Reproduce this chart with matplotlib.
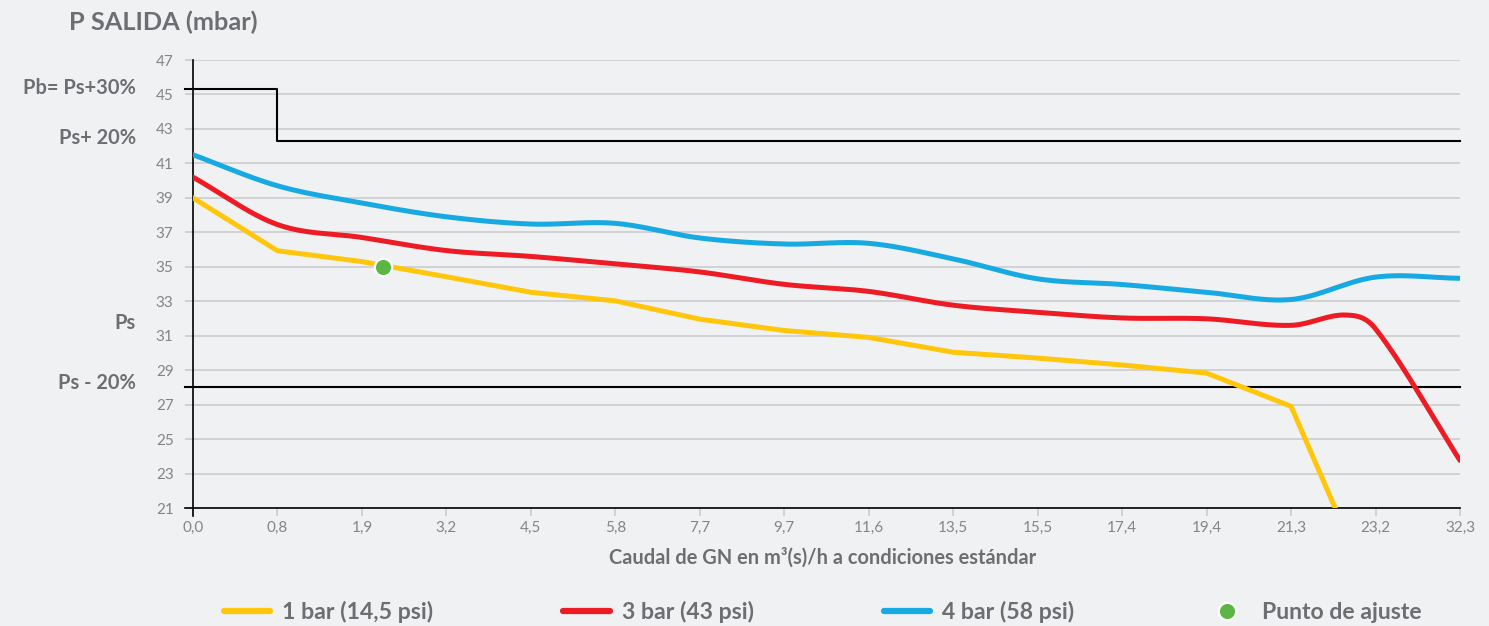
import numpy as np
import matplotlib
matplotlib.use("Agg")
import matplotlib.pyplot as plt
from matplotlib.lines import Line2D

# ---------------- data ----------------
categories = ['0,0', '0,8', '1,9', '3,2', '4,5', '5,8', '7,7', '9,7', '11,6',
              '13,5', '15,5', '17,4', '19,4', '21,3', '23,2', '32,3']
y_ticks = list(range(21, 48, 2))

# positions are category indices along the x axis
bar1_pos = [0, 1, 2, 3, 4, 5, 6, 7, 8, 9, 10, 11, 12, 13, 14]
bar1_vals = [39.0, 35.93, 35.3, 34.42, 33.52, 33.02, 31.96, 31.3, 30.9, 30.04,
             29.7, 29.3, 28.83, 26.9, 15.6]

bar3_pos = [0, 1, 2, 3, 4, 5, 6, 7, 8, 9, 10, 11, 12, 13, 13.65, 14, 15]
bar3_vals = [40.2, 37.45, 36.7, 35.94, 35.6, 35.17, 34.7, 33.98, 33.57, 32.77,
             32.36, 32.03, 31.98, 31.6, 32.2, 31.4, 23.76]

bar4_pos = [0, 1, 2, 3, 4, 5, 6, 7, 8, 9, 10, 11, 12, 13, 14, 15]
bar4_vals = [41.5, 39.7, 38.7, 37.9, 37.48, 37.52, 36.67, 36.32, 36.36, 35.46,
             34.3, 33.97, 33.52, 33.1, 34.4, 34.33]

setpoint_pos = [2.25]
setpoint_vals = [35.0]

pb_high = 45.3       # Pb = Ps+30%
pb_low = 42.3        # Ps+20%
pb_step_pos = 1      # step at "0,8"
ps_minus20 = 28.0    # Ps-20%

series_labels = ['1 bar (14,5 psi)', '3 bar (43 psi)', '4 bar (58 psi)', 'Punto de ajuste']

# ---------------- style ----------------
BG = '#f0f1f3'
GRID = '#c9c9cc'
TXT = '#6d6e71'
TICK = '#858588'
YEL = '#ffc60b'
RED = '#ed1c24'
BLU = '#17a9e1'
GRN = '#5cb646'

plt.rcParams['font.family'] = ['Lato', 'DejaVu Sans']


def smooth(xs, ys, n=40):
    xs = np.asarray(xs, float)
    ys = np.asarray(ys, float)
    m = np.zeros_like(ys)
    m[1:-1] = (ys[2:] - ys[:-2]) / (xs[2:] - xs[:-2])
    m[0] = (ys[1] - ys[0]) / (xs[1] - xs[0])
    m[-1] = (ys[-1] - ys[-2]) / (xs[-1] - xs[-2])
    ox, oy = [], []
    for i in range(len(xs) - 1):
        h = xs[i + 1] - xs[i]
        t = np.linspace(0, 1, n, endpoint=(i == len(xs) - 2))
        h00 = 2 * t**3 - 3 * t**2 + 1
        h10 = t**3 - 2 * t**2 + t
        h01 = -2 * t**3 + 3 * t**2
        h11 = t**3 - t**2
        ox.append(xs[i] + t * h)
        oy.append(h00 * ys[i] + h10 * h * m[i] + h01 * ys[i + 1] + h11 * h * m[i + 1])
    return np.concatenate(ox), np.concatenate(oy)


W, H = 1489, 626
fig = plt.figure(figsize=(W / 100, H / 100), dpi=100, facecolor=BG)
ax = fig.add_axes([193 / W, 1 - 508 / H, (1460 - 193) / W, (508 - 60) / H])
ax.set_facecolor(BG)

x_idx = np.arange(len(categories))
ax.set_xlim(0, len(categories) - 1)
ax.set_ylim(min(y_ticks), max(y_ticks))

ax.set_yticks(y_ticks)
ax.set_xticks(x_idx)
ax.set_xticklabels(categories)
ax.grid(axis='y', color=GRID, lw=1.1, zorder=0)
ax.tick_params(axis='y', length=6, width=1.1, color=GRID, labelcolor=TICK,
               labelsize=11, pad=8)
ax.tick_params(axis='x', length=6, width=1.1, color=GRID, labelcolor=TICK,
               labelsize=11, pad=3)

for s in ['top', 'right']:
    ax.spines[s].set_visible(False)
ax.spines['left'].set_color('black')
ax.spines['left'].set_linewidth(1.2)
ax.spines['bottom'].set_color('black')
ax.spines['bottom'].set_linewidth(1.2)
ax.spines['left'].set_bounds(min(y_ticks) - 0.45, max(y_ticks))
ax.spines['bottom'].set_bounds(-0.095, len(categories) - 1)

# reference lines
xl = -0.095
ax.plot([xl, pb_step_pos, pb_step_pos, len(categories) - 1],
        [pb_high, pb_high, pb_low, pb_low], color='black', lw=1.5,
        clip_on=False, zorder=3)
ax.plot([xl, len(categories) - 1], [ps_minus20, ps_minus20], color='black',
        lw=1.5, clip_on=False, zorder=3)

# series
ax.plot(bar1_pos, bar1_vals, color=YEL, lw=3.6, solid_capstyle='round',
        solid_joinstyle='round', zorder=4)
sx, sy = smooth(bar3_pos, bar3_vals)
ax.plot(sx, sy, color=RED, lw=3.6, solid_capstyle='round', zorder=4)
sx, sy = smooth(bar4_pos, bar4_vals)
ax.plot(sx, sy, color=BLU, lw=3.6, solid_capstyle='round', zorder=4)
ax.plot(setpoint_pos, setpoint_vals, 'o', color=GRN, ms=12.5, mec='white',
        mew=1.6, zorder=6)

# texts
fig.text(69 / W, 1 - 22 / H, 'P SALIDA (mbar)', fontsize=18.3, fontweight='bold',
         color=TXT, va='center', ha='left')
side = [('Pb= Ps+30%', 88.5), ('Ps+ 20%', 138), ('Ps', 323), ('Ps - 20%', 383)]
for txt, yp in side:
    fig.text(136 / W, 1 - yp / H, txt, fontsize=14.4, fontweight='bold',
             color=TXT, va='center', ha='right')
fig.text(823 / W, 1 - 558 / H, 'Caudal de GN en m³(s)/h a condiciones estándar',
         fontsize=14.4, fontweight='bold', color=TXT, va='center', ha='center')

handles = [Line2D([], [], color=YEL, lw=4.5, solid_capstyle='round'),
           Line2D([], [], color=RED, lw=4.5, solid_capstyle='round'),
           Line2D([], [], color=BLU, lw=4.5, solid_capstyle='round'),
           Line2D([], [], ls='none', marker='o', color=GRN, ms=12.5, mec='white', mew=1.6)]
leg = fig.legend(handles, series_labels, loc='center', ncol=4,
                 bbox_to_anchor=(823 / W, 1 - 612 / H), frameon=False,
                 prop={'size': 16.6, 'weight': 'bold'}, handlelength=2.0,
                 handletextpad=0.52, columnspacing=5.65, labelcolor=TXT)

fig.savefig('out.png', dpi=100, facecolor=BG)
